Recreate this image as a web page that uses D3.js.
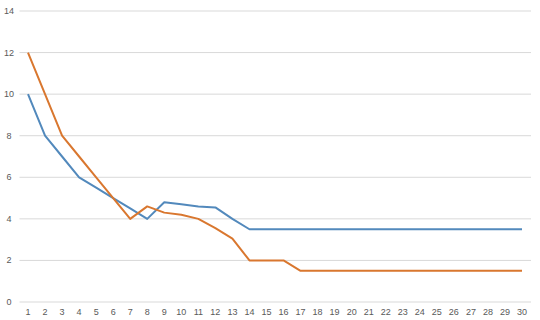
<!DOCTYPE html>
<meta charset="utf-8">
<style>
    body { margin: 0; background: #fff; }
    text { font-family: "Liberation Sans", Arial, sans-serif; font-size: 9px; fill: #595959; }
</style>
<svg width="540" height="320"></svg>
<script src="https://d3js.org/d3.v7.min.js"></script>
<script>

    var categories = d3.range(1, 31);
    var blueValues = [10, 8, 7, 6, 5.5, 5, 4.5, 4, 4.8, 4.7, 4.6, 4.55, 4, 3.5, 3.5, 3.5, 3.5, 3.5, 3.5, 3.5,
                      3.5, 3.5, 3.5, 3.5, 3.5, 3.5, 3.5, 3.5, 3.5, 3.5];
    var orangeValues = [12, 10, 8, 7, 6, 5, 4, 4.6, 4.3, 4.2, 4, 3.55, 3.05, 2, 2, 2, 1.5, 1.5, 1.5, 1.5,
                        1.5, 1.5, 1.5, 1.5, 1.5, 1.5, 1.5, 1.5, 1.5, 1.5];
    var yTicks = [0, 2, 4, 6, 8, 10, 12, 14];

    var svg = d3.select("svg");

    var x = d3.scalePoint()
        .domain(categories)
        .range([28, 522]);

    var y = d3.scaleLinear()
        .domain([0, 14])
        .range([302, 11]);

    // gridlines
    svg.append("g")
        .selectAll("line")
        .data(yTicks)
        .enter().append("line")
        .attr("x1", 19.5)
        .attr("x2", 531)
        .attr("y1", d => y(d))
        .attr("y2", d => y(d))
        .attr("stroke", "#d9d9d9")
        .attr("stroke-width", 1);

    // y labels
    svg.append("g")
        .selectAll("text")
        .data(yTicks)
        .enter().append("text")
        .attr("x", 9)
        .attr("y", d => y(d) + 3)
        .attr("text-anchor", "middle")
        .text(d => d);

    // x labels
    svg.append("g")
        .selectAll("text")
        .data(categories)
        .enter().append("text")
        .attr("x", d => x(d))
        .attr("y", 315)
        .attr("text-anchor", "middle")
        .text(d => d);

    var line = d3.line()
        .x((d, i) => x(categories[i]))
        .y(d => y(d));

    svg.append("path")
        .datum(blueValues)
        .attr("fill", "none")
        .attr("stroke", "#5289bc")
        .attr("stroke-width", 2)
        .attr("stroke-linejoin", "round")
        .attr("d", line);

    svg.append("path")
        .datum(orangeValues)
        .attr("fill", "none")
        .attr("stroke", "#d9772f")
        .attr("stroke-width", 2)
        .attr("stroke-linejoin", "round")
        .attr("d", line);

</script>
